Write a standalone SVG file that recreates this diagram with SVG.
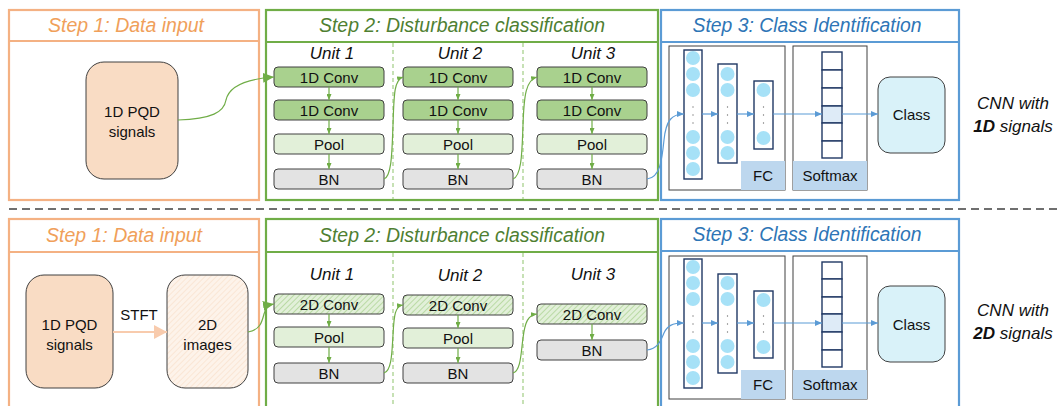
<svg xmlns="http://www.w3.org/2000/svg" width="1057" height="406" viewBox="0 0 1057 406">
  <defs>
    <style>
      text { font-family: "Liberation Sans", Arial, sans-serif; }
      .title { font-size: 19.5px; font-style: italic; text-anchor: middle; }
      .t-or { fill: #F0A05A; }
      .t-gr { fill: #4F7F32; }
      .t-bl { fill: #2E75B6; }
      .unit { font-size: 17px; font-style: italic; text-anchor: middle; fill: #111; }
      .lbl { font-size: 15px; text-anchor: middle; fill: #111; }
      .side { font-size: 17px; font-style: italic; text-anchor: middle; fill: #111; }
      .step-or { fill: #fff; stroke: #F4B183; stroke-width: 2.2; }
      .step-gr { fill: #fff; stroke: #70AD47; stroke-width: 2.2; }
      .step-bl { fill: #fff; stroke: #5B9BD5; stroke-width: 2.2; }
      .hdr-or { stroke: #F4B183; stroke-width: 2.2; }
      .hdr-gr { stroke: #70AD47; stroke-width: 2.2; }
      .hdr-bl { stroke: #5B9BD5; stroke-width: 2.2; }
      .divider { stroke: #A9D18E; stroke-width: 1.3; stroke-dasharray: 4 3; }
      .conv { fill: #A9D18E; stroke: #404040; stroke-width: 1; }
      .conv2d { fill: url(#hatchGreen); stroke: #404040; stroke-width: 1; }
      .pool { fill: #E2F0D9; stroke: #404040; stroke-width: 1; }
      .bn { fill: #E3E3E3; stroke: #404040; stroke-width: 1; }
      .input { fill: #F9DCC4; stroke: #404040; stroke-width: 1; }
      .image { fill: url(#hatchPeach); stroke: #404040; stroke-width: 1; }
      .frame { fill: #fff; stroke: #404040; stroke-width: 1; }
      .tag { fill: #BDD7EE; }
      .col { fill: #fff; stroke: #203864; stroke-width: 1.4; }
      .neuron { fill: #A6E1F7; }
      .dot { fill: #777; }
      .cell { fill: #fff; stroke: #203864; stroke-width: 1.4; }
      .cell-on { fill: #DEEBF7; stroke: #203864; stroke-width: 1.4; }
      .cls { fill: #D9F2F9; stroke: #404040; stroke-width: 1; }
      .flow-gr { fill: none; stroke: #70AD47; stroke-width: 1.2; }
      .flow-bl { fill: none; stroke: #5B9BD5; stroke-width: 1.2; }
    </style>
    <pattern id="hatchGreen" patternUnits="userSpaceOnUse" width="4" height="4" patternTransform="rotate(45)">
      <rect width="4" height="4" fill="#E2F0D9"/>
      <line x1="0" y1="0" x2="0" y2="4" stroke="#A9D18E" stroke-width="1.4"/>
    </pattern>
    <pattern id="hatchPeach" patternUnits="userSpaceOnUse" width="4" height="4" patternTransform="rotate(45)">
      <rect width="4" height="4" fill="#FDF3EA"/>
      <line x1="0" y1="0" x2="0" y2="4" stroke="#F8D9C0" stroke-width="1"/>
    </pattern>
    <marker id="headGreenBig" markerUnits="userSpaceOnUse" markerWidth="11" markerHeight="10" refX="11" refY="5" orient="auto">
      <path d="M0,0 L11,5 L0,10 z" fill="#70AD47"/>
    </marker>
    <marker id="headGreen" markerUnits="userSpaceOnUse" markerWidth="6" markerHeight="5" refX="6" refY="2.5" orient="auto">
      <path d="M0,0 L6,2.5 L0,5 z" fill="#70AD47"/>
    </marker>
    <marker id="headBlue" markerUnits="userSpaceOnUse" markerWidth="7" markerHeight="6" refX="7" refY="3" orient="auto">
      <path d="M0,0 L7,3 L0,6 z" fill="#5B9BD5"/>
    </marker>
    <marker id="headPeach" markerUnits="userSpaceOnUse" markerWidth="13" markerHeight="14" refX="13" refY="7" orient="auto">
      <path d="M0,0 L13,7 L0,14 z" fill="#F8CBAD"/>
    </marker>
  </defs>

  <rect width="1057" height="406" fill="#fff"/>

  <!-- ===== 1D pipeline (upper row) ===== -->
  <g id="step1-top">
    <rect class="step-or" x="9" y="10" width="250" height="190"/>
    <line class="hdr-or" x1="9" y1="41" x2="259" y2="41"/>
    <text class="title t-or" x="126" y="32" textLength="156" lengthAdjust="spacingAndGlyphs">Step 1: Data input</text>
  </g>
  <g id="step2-top">
    <rect class="step-gr" x="266" y="10" width="392" height="190"/>
    <line class="hdr-gr" x1="266" y1="42" x2="658" y2="42"/>
    <text class="title t-gr" x="462" y="32" textLength="286" lengthAdjust="spacingAndGlyphs">Step 2: Disturbance classification</text>
    <line class="divider" x1="393" y1="43" x2="393" y2="199"/>
    <line class="divider" x1="523" y1="43" x2="523" y2="199"/>
  </g>
  <g id="step3-top">
    <rect class="step-bl" x="661" y="10" width="298" height="190"/>
    <line class="hdr-bl" x1="661" y1="42" x2="959" y2="42"/>
    <text class="title t-bl" x="807" y="32" textLength="229" lengthAdjust="spacingAndGlyphs">Step 3: Class Identification</text>
  </g>

  <g id="pqd-1d">
    <rect class="input" x="86" y="62" width="92" height="117" rx="18"/>
    <text class="lbl" x="132" y="117">1D PQD</text>
    <text class="lbl" x="132" y="137">signals</text>
  </g>

  <g id="unit1-top">
    <text class="unit" x="332" y="59">Unit 1</text>
    <rect class="conv" x="274" y="67" width="110" height="20" rx="4"/>
    <text class="lbl" x="329" y="82.5">1D Conv</text>
    <rect class="conv" x="274" y="100" width="110" height="20" rx="4"/>
    <text class="lbl" x="329" y="115.5">1D Conv</text>
    <rect class="pool" x="274" y="134" width="110" height="20" rx="4"/>
    <text class="lbl" x="329" y="149.5">Pool</text>
    <rect class="bn" x="274" y="169" width="110" height="20" rx="4"/>
    <text class="lbl" x="329" y="184.5">BN</text>
  </g>
  <g id="unit2-top">
    <text class="unit" x="460" y="59">Unit 2</text>
    <rect class="conv" x="403" y="67" width="110" height="20" rx="4"/>
    <text class="lbl" x="458" y="82.5">1D Conv</text>
    <rect class="conv" x="403" y="100" width="110" height="20" rx="4"/>
    <text class="lbl" x="458" y="115.5">1D Conv</text>
    <rect class="pool" x="403" y="134" width="110" height="20" rx="4"/>
    <text class="lbl" x="458" y="149.5">Pool</text>
    <rect class="bn" x="403" y="169" width="110" height="20" rx="4"/>
    <text class="lbl" x="458" y="184.5">BN</text>
  </g>
  <g id="unit3-top">
    <text class="unit" x="593" y="59">Unit 3</text>
    <rect class="conv" x="537" y="67" width="110" height="20" rx="4"/>
    <text class="lbl" x="592" y="82.5">1D Conv</text>
    <rect class="conv" x="537" y="100" width="110" height="20" rx="4"/>
    <text class="lbl" x="592" y="115.5">1D Conv</text>
    <rect class="pool" x="537" y="134" width="110" height="20" rx="4"/>
    <text class="lbl" x="592" y="149.5">Pool</text>
    <rect class="bn" x="537" y="169" width="110" height="20" rx="4"/>
    <text class="lbl" x="592" y="184.5">BN</text>
  </g>

  <!-- fully connected block + softmax + class, drawn once per row -->
  <g id="fc-top">
    <rect class="frame" x="669" y="46" width="116" height="144"/>
    <rect class="tag" x="741" y="161" width="44" height="29"/>
    <text class="lbl" x="763" y="181">FC</text>
    <rect class="col" x="684" y="50" width="18" height="129"/>
    <circle class="neuron" cx="693" cy="58" r="7"/>
    <circle class="neuron" cx="693" cy="74" r="7"/>
    <circle class="neuron" cx="693" cy="90" r="7"/>
    <circle class="dot" cx="693" cy="107" r="0.7"/>
    <circle class="dot" cx="693" cy="115" r="0.7"/>
    <circle class="dot" cx="693" cy="123" r="0.7"/>
    <circle class="neuron" cx="693" cy="137" r="7"/>
    <circle class="neuron" cx="693" cy="153" r="7"/>
    <circle class="neuron" cx="693" cy="169" r="7"/>
    <rect class="col" x="718" y="64" width="19" height="99"/>
    <circle class="neuron" cx="727.5" cy="74" r="7"/>
    <circle class="neuron" cx="727.5" cy="90" r="7"/>
    <circle class="dot" cx="727.5" cy="107" r="0.7"/>
    <circle class="dot" cx="727.5" cy="115" r="0.7"/>
    <circle class="dot" cx="727.5" cy="123" r="0.7"/>
    <circle class="neuron" cx="727.5" cy="137" r="7"/>
    <circle class="neuron" cx="727.5" cy="153" r="7"/>
    <rect class="col" x="754" y="81" width="19" height="68"/>
    <circle class="neuron" cx="763.5" cy="90" r="7"/>
    <circle class="dot" cx="763.5" cy="107" r="0.7"/>
    <circle class="dot" cx="763.5" cy="115" r="0.7"/>
    <circle class="dot" cx="763.5" cy="123" r="0.7"/>
    <circle class="neuron" cx="763.5" cy="138" r="7"/>
  </g>
  <g id="softmax-top">
    <rect class="frame" x="793" y="46" width="74" height="144"/>
    <rect class="tag" x="793" y="161" width="74" height="29"/>
    <text class="lbl" x="830" y="181">Softmax</text>
    <rect class="cell" x="822" y="52" width="20" height="18"/>
    <rect class="cell" x="822" y="70" width="20" height="18"/>
    <rect class="cell" x="822" y="88" width="20" height="18"/>
    <rect class="cell-on" x="822" y="106" width="20" height="17"/>
    <rect class="cell" x="822" y="123" width="20" height="18"/>
    <rect class="cell" x="822" y="141" width="20" height="17"/>
  </g>
  <g id="class-top">
    <rect class="cls" x="878" y="77" width="67" height="76" rx="12"/>
    <text class="lbl" x="911.5" y="120">Class</text>
  </g>
  <g id="caption-top">
    <text class="side" x="1013" y="109">CNN with</text>
    <text class="side" x="1013" y="132"><tspan font-weight="bold">1D</tspan> signals</text>
  </g>

  <!-- row separator -->
  <line x1="9" y1="209" x2="1057" y2="209" stroke="#404040" stroke-width="1.5" stroke-dasharray="8 5"/>

  <!-- ===== 2D pipeline (lower row) ===== -->
  <g id="step1-bottom">
    <rect class="step-or" x="9" y="219" width="250" height="200"/>
    <line class="hdr-or" x1="9" y1="252" x2="259" y2="252"/>
    <text class="title t-or" x="124" y="242" textLength="156" lengthAdjust="spacingAndGlyphs">Step 1: Data input</text>
  </g>
  <g id="step2-bottom">
    <rect class="step-gr" x="266" y="219" width="392" height="200"/>
    <line class="hdr-gr" x1="266" y1="252" x2="658" y2="252"/>
    <text class="title t-gr" x="462" y="242" textLength="286" lengthAdjust="spacingAndGlyphs">Step 2: Disturbance classification</text>
    <line class="divider" x1="393" y1="253" x2="393" y2="406"/>
    <line class="divider" x1="523" y1="253" x2="523" y2="406"/>
  </g>
  <g id="step3-bottom">
    <rect class="step-bl" x="661" y="219" width="298" height="200"/>
    <line class="hdr-bl" x1="661" y1="251" x2="959" y2="251"/>
    <text class="title t-bl" x="807" y="241" textLength="229" lengthAdjust="spacingAndGlyphs">Step 3: Class Identification</text>
  </g>

  <g id="pqd-2d">
    <rect class="input" x="26" y="275" width="87" height="113" rx="18"/>
    <text class="lbl" x="69.5" y="330">1D PQD</text>
    <text class="lbl" x="69.5" y="350">signals</text>
  </g>
  <g id="images-2d">
    <rect class="image" x="167" y="275" width="81" height="113" rx="18"/>
    <text class="lbl" x="207.5" y="330">2D</text>
    <text class="lbl" x="207.5" y="350">images</text>
  </g>

  <g id="unit1-bottom">
    <text class="unit" x="332" y="280">Unit 1</text>
    <rect class="conv2d" x="274" y="294" width="110" height="20" rx="4"/>
    <text class="lbl" x="329" y="309.5">2D Conv</text>
    <rect class="pool" x="274" y="327" width="110" height="20" rx="4"/>
    <text class="lbl" x="329" y="342.5">Pool</text>
    <rect class="bn" x="274" y="363" width="110" height="20" rx="4"/>
    <text class="lbl" x="329" y="378.5">BN</text>
  </g>
  <g id="unit2-bottom">
    <text class="unit" x="460" y="281">Unit 2</text>
    <rect class="conv2d" x="403" y="295" width="110" height="20" rx="4"/>
    <text class="lbl" x="458" y="310.5">2D Conv</text>
    <rect class="pool" x="403" y="328" width="110" height="20" rx="4"/>
    <text class="lbl" x="458" y="343.5">Pool</text>
    <rect class="bn" x="403" y="363" width="110" height="20" rx="4"/>
    <text class="lbl" x="458" y="378.5">BN</text>
  </g>
  <g id="unit3-bottom">
    <text class="unit" x="593" y="280">Unit 3</text>
    <rect class="conv2d" x="537" y="304" width="110" height="20" rx="4"/>
    <text class="lbl" x="592" y="319.5">2D Conv</text>
    <rect class="bn" x="537" y="340" width="110" height="20" rx="4"/>
    <text class="lbl" x="592" y="355.5">BN</text>
  </g>

  <g id="fc-bottom" transform="translate(0,209)">
    <rect class="frame" x="669" y="47" width="116" height="143"/>
    <rect class="tag" x="741" y="161" width="44" height="29"/>
    <text class="lbl" x="763" y="181">FC</text>
    <rect class="col" x="684" y="50" width="18" height="129"/>
    <circle class="neuron" cx="693" cy="58" r="7"/>
    <circle class="neuron" cx="693" cy="74" r="7"/>
    <circle class="neuron" cx="693" cy="90" r="7"/>
    <circle class="dot" cx="693" cy="107" r="0.7"/>
    <circle class="dot" cx="693" cy="115" r="0.7"/>
    <circle class="dot" cx="693" cy="123" r="0.7"/>
    <circle class="neuron" cx="693" cy="137" r="7"/>
    <circle class="neuron" cx="693" cy="153" r="7"/>
    <circle class="neuron" cx="693" cy="169" r="7"/>
    <rect class="col" x="718" y="65" width="19" height="99"/>
    <circle class="neuron" cx="727.5" cy="74" r="7"/>
    <circle class="neuron" cx="727.5" cy="90" r="7"/>
    <circle class="dot" cx="727.5" cy="107" r="0.7"/>
    <circle class="dot" cx="727.5" cy="115" r="0.7"/>
    <circle class="dot" cx="727.5" cy="123" r="0.7"/>
    <circle class="neuron" cx="727.5" cy="137" r="7"/>
    <circle class="neuron" cx="727.5" cy="153" r="7"/>
    <rect class="col" x="754" y="82" width="19" height="67"/>
    <circle class="neuron" cx="763.5" cy="91" r="7"/>
    <circle class="dot" cx="763.5" cy="107" r="0.7"/>
    <circle class="dot" cx="763.5" cy="115" r="0.7"/>
    <circle class="dot" cx="763.5" cy="123" r="0.7"/>
    <circle class="neuron" cx="763.5" cy="138" r="7"/>
  </g>
  <g id="softmax-bottom" transform="translate(0,209)">
    <rect class="frame" x="793" y="47" width="74" height="143"/>
    <rect class="tag" x="793" y="161" width="74" height="29"/>
    <text class="lbl" x="830" y="181">Softmax</text>
    <rect class="cell" x="822" y="53" width="20" height="17"/>
    <rect class="cell" x="822" y="70" width="20" height="18"/>
    <rect class="cell" x="822" y="88" width="20" height="17"/>
    <rect class="cell-on" x="822" y="105" width="20" height="18"/>
    <rect class="cell" x="822" y="123" width="20" height="18"/>
    <rect class="cell" x="822" y="141" width="20" height="17"/>
  </g>
  <g id="class-bottom">
    <rect class="cls" x="878" y="286" width="67" height="76" rx="12"/>
    <text class="lbl" x="911.5" y="330">Class</text>
  </g>
  <g id="caption-bottom">
    <text class="side" x="1013" y="316">CNN with</text>
    <text class="side" x="1013" y="339"><tspan font-weight="bold">2D</tspan> signals</text>
  </g>

  <!-- ===== connectors ===== -->
  <g id="connectors">
    <!-- upper row -->
    <path class="flow-gr" marker-end="url(#headGreenBig)" d="M178,120 C212,119 224,112 226,100 C229,86 246,79 274,77"/>
    <path class="flow-gr" marker-end="url(#headGreen)" d="M329,87 V100"/>
    <path class="flow-gr" marker-end="url(#headGreen)" d="M329,120 V134"/>
    <path class="flow-gr" marker-end="url(#headGreen)" d="M329,154 V169"/>
    <path class="flow-gr" marker-end="url(#headGreen)" d="M384,179 C392,176 392,150 393,125 C394,95 394,80 403,77"/>
    <path class="flow-gr" marker-end="url(#headGreen)" d="M458,87 V100"/>
    <path class="flow-gr" marker-end="url(#headGreen)" d="M458,120 V134"/>
    <path class="flow-gr" marker-end="url(#headGreen)" d="M458,154 V169"/>
    <path class="flow-gr" marker-end="url(#headGreen)" d="M513,179 C522,176 522,150 523,125 C524,95 526,80 537,77"/>
    <path class="flow-gr" marker-end="url(#headGreen)" d="M592,87 V100"/>
    <path class="flow-gr" marker-end="url(#headGreen)" d="M592,120 V134"/>
    <path class="flow-gr" marker-end="url(#headGreen)" d="M592,154 V169"/>
    <path class="flow-bl" marker-end="url(#headBlue)" d="M647,179 C660,178 662,160 664,140 C666,120 672,114 684,114"/>
    <path class="flow-bl" marker-end="url(#headBlue)" d="M702,114 H718"/>
    <path class="flow-bl" marker-end="url(#headBlue)" d="M737,114 H754"/>
    <path class="flow-bl" marker-end="url(#headBlue)" d="M773,114 H822"/>
    <path class="flow-bl" marker-end="url(#headBlue)" d="M842,114 H878"/>

    <!-- lower row -->
    <path fill="none" stroke="#F8CBAD" stroke-width="2" marker-end="url(#headPeach)" d="M113,332 H167"/>
    <text class="lbl" x="139" y="320">STFT</text>
    <path class="flow-gr" marker-end="url(#headGreenBig)" d="M248,332 C260,330 262,322 264,314 C266,307 268,305 274,304"/>
    <path class="flow-gr" marker-end="url(#headGreen)" d="M329,314 V327"/>
    <path class="flow-gr" marker-end="url(#headGreen)" d="M329,347 V363"/>
    <path class="flow-gr" marker-end="url(#headGreen)" d="M384,373 C392,371 392,350 393,335 C394,315 395,306 403,305"/>
    <path class="flow-gr" marker-end="url(#headGreen)" d="M458,315 V328"/>
    <path class="flow-gr" marker-end="url(#headGreen)" d="M458,348 V363"/>
    <path class="flow-gr" marker-end="url(#headGreen)" d="M513,373 C521,371 521,352 523,338 C525,322 528,315 537,314"/>
    <path class="flow-gr" marker-end="url(#headGreen)" d="M592,324 V340"/>
    <path class="flow-bl" marker-end="url(#headBlue)" d="M647,350 C658,349 661,340 664,333 C667,326 672,323 684,323"/>
    <path class="flow-bl" marker-end="url(#headBlue)" d="M702,323 H718"/>
    <path class="flow-bl" marker-end="url(#headBlue)" d="M737,323 H754"/>
    <path class="flow-bl" marker-end="url(#headBlue)" d="M773,323 H822"/>
    <path class="flow-bl" marker-end="url(#headBlue)" d="M842,323 H878"/>
  </g>
</svg>
